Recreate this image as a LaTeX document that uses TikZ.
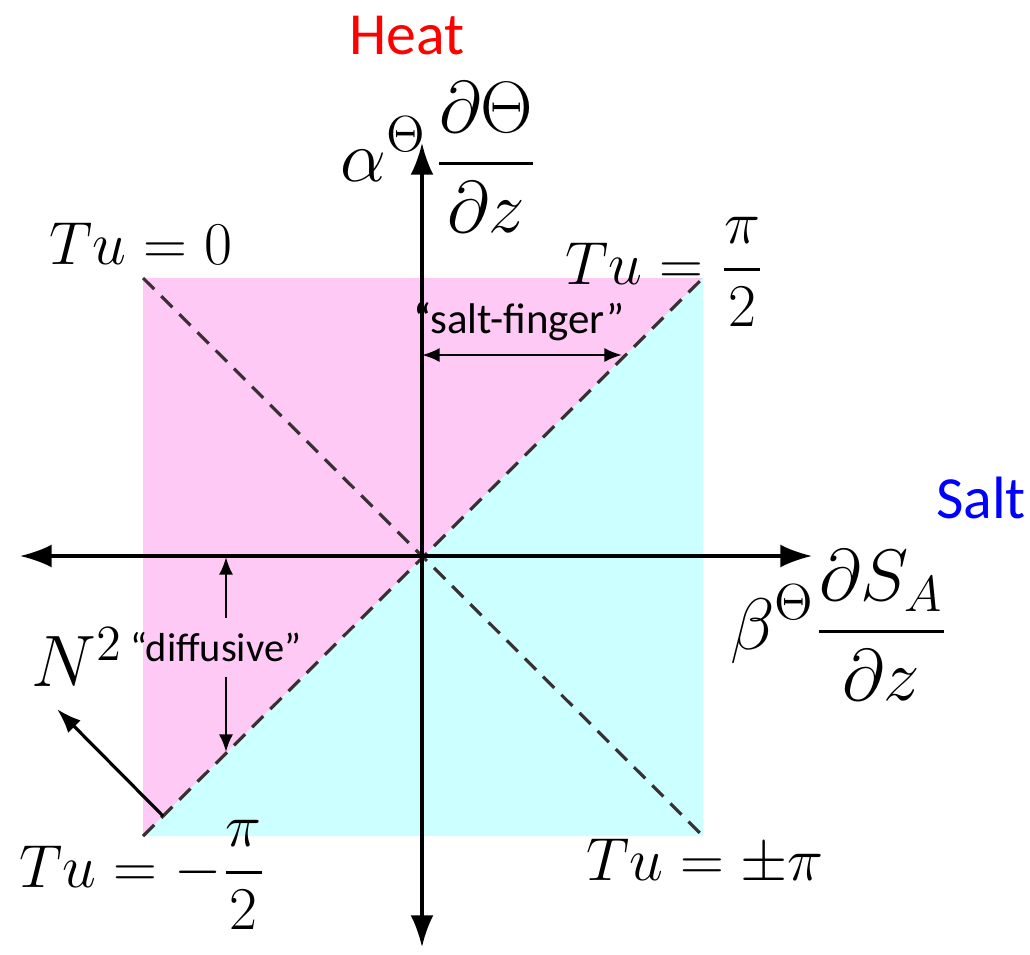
\documentclass[tikz,border=0pt]{standalone}
\usepackage{amsmath}
\usepackage{fontspec}
\newfontfamily\calibri{Carlito}
\usetikzlibrary{arrows.meta}

\definecolor{heatpink}{RGB}{255,201,245}
\definecolor{saltcyan}{RGB}{204,255,255}

\tikzset{
  axis/.style={line width=0.9pt,-{Latex[length=9pt,width=6.5pt]}},
  span/.style={line width=0.7pt,{Latex[length=5pt,width=4pt]}-{Latex[length=5pt,width=4pt]}},
  halfspan/.style={line width=0.7pt,-{Latex[length=5pt,width=4pt]}},
  diag/.style={line width=0.9pt,dash pattern=on 4.5pt off 2.8pt,black!90!magenta},
  mathlbl/.style={inner sep=0pt,font=\fontsize{19}{23}\selectfont},
  wordlbl/.style={inner sep=1pt,font=\calibri\fontsize{11.5}{14}\selectfont},
  bigword/.style={inner sep=0pt,font=\calibri\fontsize{17}{20}\selectfont}
}

\begin{document}
\begin{tikzpicture}[x=0.01cm,y=-0.01cm]
\useasboundingbox (0,0) rectangle (1030,954);
% corners of the square
\coordinate (nw) at (143,278);
\coordinate (ne) at (703,278);
\coordinate (sw) at (143,836);
\coordinate (se) at (703,836);
\coordinate (o) at (422,556);
\fill[heatpink] (nw) -- (ne) -- (sw) -- cycle;
\fill[saltcyan] (ne) -- (se) -- (sw) -- cycle;
\draw[diag] (sw) -- (ne);
\draw[diag] (nw) -- (se);
% axes
\coordinate (xl) at (20,556);
\coordinate (xr) at (812,556);
\coordinate (yt) at (422,143);
\coordinate (yb) at (422,947);
\draw[axis] (o) -- (xl);
\draw[axis] (o) -- (xr);
\draw[axis] (o) -- (yt);
\draw[axis] (o) -- (yb);
% regimes
\node[wordlbl,font=\calibri\fontsize{12.2}{14}\selectfont] (sf) at (519,322) {“salt-finger”};
\coordinate (sfl) at (422,355);
\coordinate (sfr) at (622,355);
\draw[span] (sfl) -- (sfr);
\coordinate (dft) at (226,557);
\coordinate (dfb) at (226,752);
\node[wordlbl,inner sep=4pt] (df) at (216,647) {“diffusive”};
\draw[halfspan] (df.north-|dft) -- (dft);
\draw[halfspan] (df.south-|dfb) -- (dfb);
% labels
\node[bigword,text=red] (heat) at (407,36) {Heat};
\node[bigword,text=blue] (salt) at (981,498) {Salt};
\node[mathlbl,font=\fontsize{21}{25}\selectfont] (ay) at (439,157) {$\displaystyle \alpha^{\Theta}\mkern2mu\frac{\partial\Theta}{\partial z}$};
\node[mathlbl,font=\fontsize{22}{26}\selectfont] (bx) at (839,625) {$\displaystyle \beta^{\Theta}\frac{\partial S_A}{\partial z}$};
\node[mathlbl] (tu0) at (141,244) {$Tu=0$};
\node[mathlbl] (tup) at (665,272) {$Tu=\dfrac{\pi}{2}$};
\node[mathlbl] (tum) at (143,875) {$Tu=-\dfrac{\pi}{2}$};
\node[mathlbl] (tupi) at (705,862) {$Tu=\pm\pi$};
\node[mathlbl,font=\fontsize{21}{25}\selectfont] (n2) at (77,657) {$N^2$};
\coordinate (n2s) at (163,816);
\coordinate (n2e) at (57,709);
\draw[axis,-{Latex[length=7pt,width=5pt]}] (n2s) -- (n2e);
\end{tikzpicture}
\end{document}
